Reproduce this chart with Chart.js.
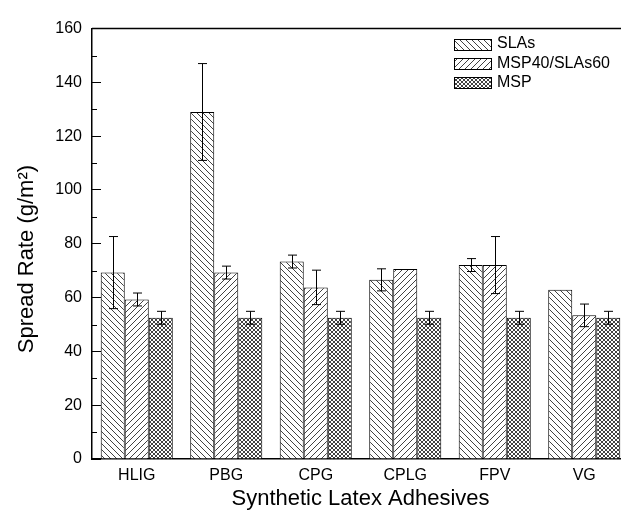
<!DOCTYPE html>
<html>
<head>
<meta charset="utf-8">
<script src="https://cdn.jsdelivr.net/npm/chart.js@4/dist/chart.umd.min.js"></script>
<style>
  html, body { margin: 0; padding: 0; overflow: hidden; background: #fff; }
</style>
</head>
<body>
<canvas id="myChart" width="640" height="515"></canvas>
<script>
// data
const categories = ["HLIG", "PBG", "CPG", "CPLG", "FPV", "VG"];
const seriesNames = ["SLAs", "MSP40/SLAs60", "MSP"];
const slas = [69.3, 129.0, 73.4, 66.6, 72.1, 62.9];
const slasErr = [13.4, 18.0, 2.4, 4.1, 2.4, 0];
const mix = [59.3, 69.3, 63.8, 70.6, 72.1, 53.4];
const mixErr = [2.4, 2.4, 6.4, 0, 10.6, 4.2];
const msp = [52.5, 52.5, 52.5, 52.5, 52.5, 52.5];
const mspErr = [2.4, 2.4, 2.4, 2.4, 2.4, 2.4];
const yTicks = [0, 20, 40, 60, 80, 100, 120, 140, 160];
const minorTicks = [10, 30, 50, 70, 90, 110, 130, 150];

const FONT = 'Arial, "Liberation Sans", sans-serif';

// hatch patterns
function makePattern(kind) {
  const c = document.createElement('canvas');
  const s = kind === 'cross' ? 4 : 6;
  c.width = s; c.height = s;
  const g = c.getContext('2d');
  g.fillStyle = '#fff';
  g.fillRect(0, 0, s, s);
  g.strokeStyle = '#111';
  g.lineWidth = 0.8;
  g.beginPath();
  if (kind === 'back' || kind === 'cross') {
    g.moveTo(-1, -1); g.lineTo(s + 1, s + 1);
  }
  if (kind === 'fwd' || kind === 'cross') {
    g.moveTo(-1, s + 1); g.lineTo(s + 1, -1);
  }
  g.stroke();
  return g.createPattern(c, 'repeat');
}

const errorBars = {
  id: 'errorBars',
  afterDatasetsDraw(chart) {
    const ctx = chart.ctx;
    const y = chart.scales.y;
    ctx.save();
    ctx.strokeStyle = '#000';
    ctx.lineWidth = 1;
    chart.data.datasets.forEach((ds, di) => {
      const meta = chart.getDatasetMeta(di);
      meta.data.forEach((bar, i) => {
        const e = ds.errors[i];
        if (!e) return;
        const v = ds.data[i];
        const top = y.getPixelForValue(v + e);
        const bot = y.getPixelForValue(v - e);
        const x = Math.round(bar.x) + 0.5;
        ctx.beginPath();
        ctx.moveTo(x, top); ctx.lineTo(x, bot);
        ctx.moveTo(x - 4.5, top); ctx.lineTo(x + 4.5, top);
        ctx.moveTo(x - 4.5, bot); ctx.lineTo(x + 4.5, bot);
        ctx.stroke();
      });
    });
    ctx.restore();
  }
};

const frame = {
  id: 'frame',
  afterDraw(chart) {
    const ctx = chart.ctx;
    const a = chart.chartArea;
    const y = chart.scales.y;
    ctx.save();
    ctx.strokeStyle = '#000';
    ctx.lineWidth = 1.5;
    ctx.beginPath();
    ctx.moveTo(a.left, a.top); ctx.lineTo(a.right, a.top);
    ctx.stroke();
    // minor ticks
    ctx.lineWidth = 1;
    ctx.beginPath();
    minorTicks.forEach(v => {
      const py = Math.round(y.getPixelForValue(v)) + 0.5;
      ctx.moveTo(a.left, py); ctx.lineTo(a.left + 5, py);
    });
    ctx.stroke();
    // legend
    ctx.font = '16px ' + FONT;
    ctx.textBaseline = 'middle';
    chart.data.datasets.forEach((ds, i) => {
      const cy = 44 + i * 19.2;
      const top = Math.round(cy - 5.5) + 0.5;
      ctx.fillStyle = ds.backgroundColor;
      ctx.fillRect(454.5, top, 37, 11);
      ctx.strokeRect(454.5, top, 37, 11);
      ctx.fillStyle = '#000';
      ctx.fillText(ds.label, 497, cy);
    });
    ctx.restore();
  }
};

const ctx = document.getElementById('myChart');
new Chart(ctx, {
  type: 'bar',
  data: {
    labels: categories,
    datasets: [
      { label: seriesNames[0], data: slas, errors: slasErr, backgroundColor: makePattern('back') },
      { label: seriesNames[1], data: mix, errors: mixErr, backgroundColor: makePattern('fwd') },
      { label: seriesNames[2], data: msp, errors: mspErr, backgroundColor: makePattern('cross') }
    ]
  },
  options: {
    responsive: false,
    animation: false,
    devicePixelRatio: 1,
    layout: { padding: { top: 21, right: 11, left: 0, bottom: 0 } },
    datasets: {
      bar: {
        borderColor: '#000',
        borderWidth: 1,
        categoryPercentage: 0.805,
        barPercentage: 1.0
      }
    },
    plugins: {
      legend: { display: false },
      tooltip: { enabled: false }
    },
    scales: {
      x: {
        grid: { display: false, drawTicks: false },
        border: { display: true, color: '#000', width: 1.5 },
        ticks: { color: '#000', font: { family: FONT, size: 16 }, padding: 7 },
        title: {
          display: true, text: 'Synthetic Latex Adhesives', color: '#000',
          font: { family: FONT, size: 22 }, padding: { top: 0, bottom: 3 }
        },
        afterFit(scale) { scale.height = 56; }
      },
      y: {
        min: 0, max: 160,
        afterBuildTicks(scale) { scale.ticks = yTicks.map(v => ({ value: v })); },
        grid: { drawOnChartArea: false, drawTicks: true, tickLength: -9, color: '#000', lineWidth: 1 },
        border: { display: true, color: '#000', width: 1.5 },
        ticks: { color: '#000', font: { family: FONT, size: 16 }, padding: 19 },
        title: {
          display: true, text: 'Spread Rate (g/m²)\u00A0\u00A0\u00A0\u00A0\u00A0', color: '#000',
          font: { family: FONT, size: 22 }, padding: { top: 14, bottom: 0 }
        },
        afterFit(scale) { scale.width = 92; }
      }
    }
  },
  plugins: [errorBars, frame]
});
</script>
</body>
</html>
